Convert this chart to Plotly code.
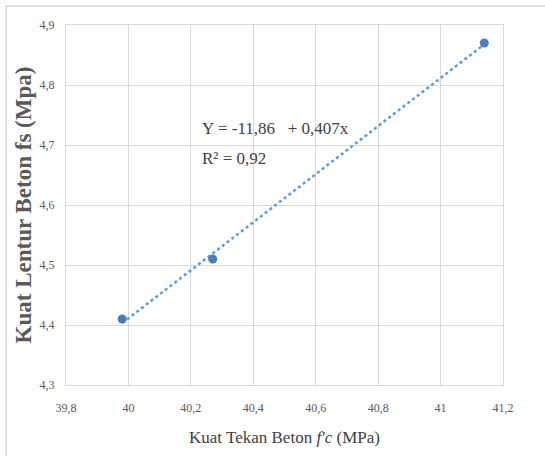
import numpy as np
import plotly.graph_objects as go

# Data
x_fc = [39.98, 40.27, 41.14]
y_fs = [4.41, 4.51, 4.87]
eq_text = "Y = -11,86   + 0,407x"
r2_text = "R² = 0,92"
x_title = "Kuat Tekan Beton <i>f'c</i> (MPa)"
y_title = "<b>Kuat Lentur Beton fs (Mpa)</b>"

slope, intercept = np.polyfit(x_fc, y_fs, 1)
xt = np.array([min(x_fc), max(x_fc)])
yt = intercept + slope * xt

SERIF = "Liberation Serif, Times New Roman, serif"

fig = go.Figure()
fig.add_trace(go.Scatter(x=xt, y=yt, mode="lines",
                         line=dict(color="#5b9bd5", width=2.5, dash="dot"),
                         showlegend=False, hoverinfo="skip"))
fig.add_trace(go.Scatter(x=x_fc, y=y_fs, mode="markers",
                         marker=dict(color="#4a7ebb", size=9),
                         showlegend=False))

fig.add_annotation(x=40.23, y=4.728, xref="x", yref="y", text=eq_text, showarrow=False,
                   xanchor="left", yanchor="middle",
                   font=dict(family=SERIF, size=17, color="#404040"))
fig.add_annotation(x=40.23, y=4.678, xref="x", yref="y", text=r2_text, showarrow=False,
                   xanchor="left", yanchor="middle",
                   font=dict(family=SERIF, size=17, color="#404040"))

# outer border
fig.add_shape(type="rect", xref="paper", yref="paper",
              x0=-0.137, x1=1.1, y0=-0.2, y1=1.053,
              line=dict(color="#d9d9d9", width=1.5), layer="below")

fig.update_layout(
    width=545, height=456,
    margin=dict(l=66, r=42, t=25, b=71),
    paper_bgcolor="white", plot_bgcolor="white",
    separators=", ",
    xaxis=dict(range=[39.8, 41.2], dtick=0.2, tick0=39.8,
               showgrid=True, gridcolor="#d9d9d9", gridwidth=1.2,
               showline=True, linecolor="#d9d9d9", mirror=True, zeroline=False,
               ticks="", ticklabelstandoff=12,
               tickfont=dict(family="Liberation Sans Narrow", size=12, color="#595959"),
               title=dict(text=x_title, standoff=16,
                          font=dict(family=SERIF, size=17, color="#404040"))),
    yaxis=dict(range=[4.3, 4.9], dtick=0.1, tick0=4.3,
               showgrid=True, gridcolor="#d9d9d9", gridwidth=1.2,
               showline=True, linecolor="#d9d9d9", mirror=True, zeroline=False,
               ticks="", ticklabelstandoff=8,
               tickfont=dict(family="Liberation Sans Narrow", size=12, color="#595959"),
               title=dict(text=y_title, standoff=1,
                          font=dict(family=SERIF, size=23, color="#595959"))),
)

fig.write_html("out.html")
